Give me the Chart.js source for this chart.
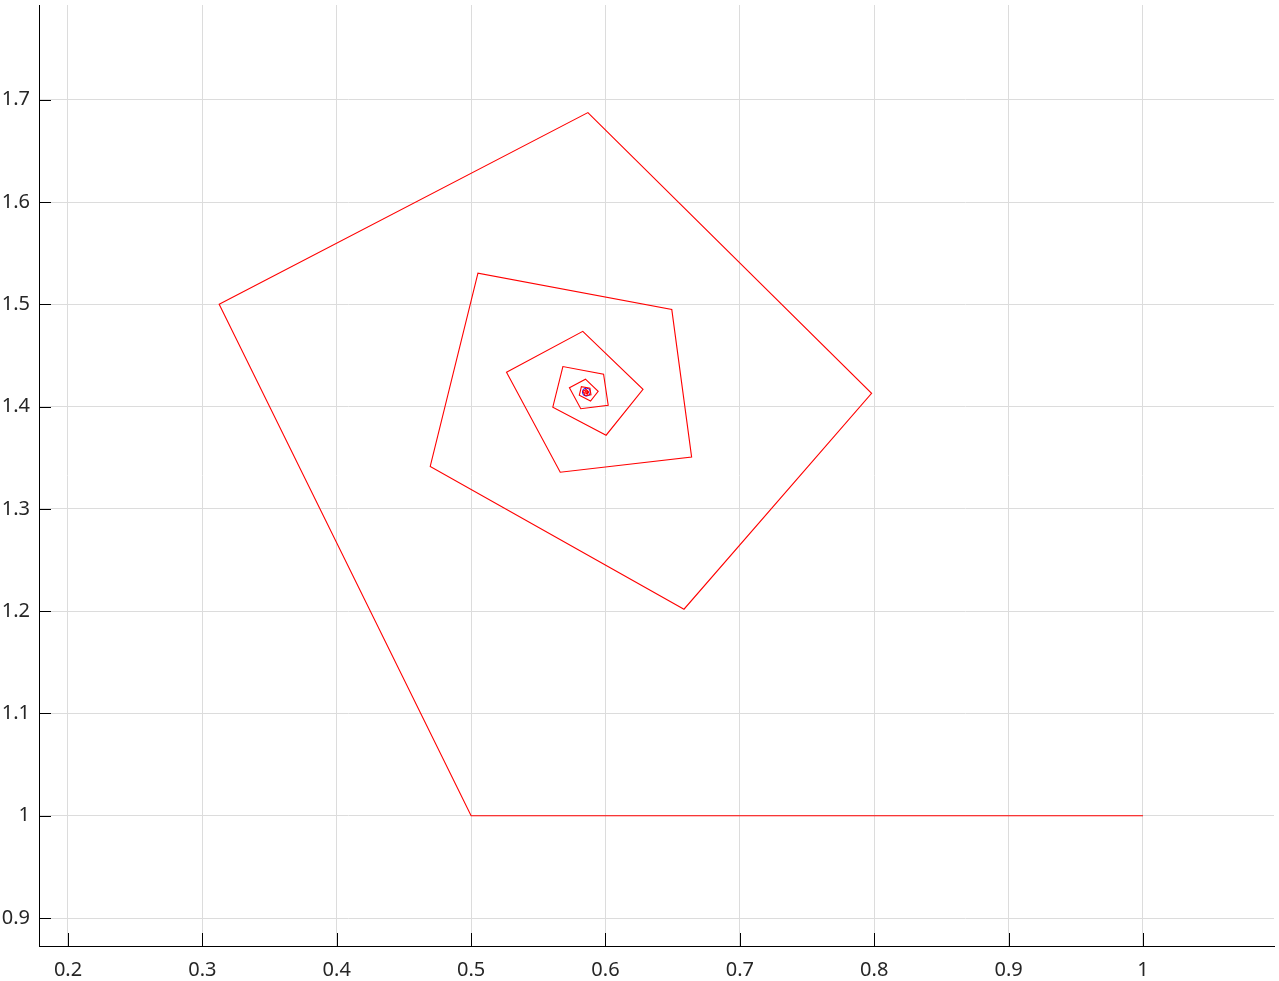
<!DOCTYPE html>
<html>
<head>
<meta charset="utf-8">
<script src="https://cdn.jsdelivr.net/npm/chart.js@4"></script>
<style>
html,body{margin:0;padding:0;background:#fff;}
canvas{display:block;}
</style>
</head>
<body>
<canvas id="c" width="1279" height="981"></canvas>
<script>
// Iteration path (x, y)
const xValues = [1, 0.5, 0.3125, 0.58691, 0.79803, 0.65842, 0.46956, 0.50508, 0.64934, 0.66410,
  0.56633, 0.52634, 0.58311, 0.62793, 0.60047, 0.56079, 0.56829, 0.59857, 0.60202, 0.58161,
  0.57316, 0.58509, 0.59455, 0.58887, 0.58051, 0.58207, 0.58844, 0.58920, 0.58491, 0.58312,
  0.58563, 0.58762, 0.58644, 0.58468, 0.58500, 0.58634, 0.58650, 0.58561];
const yValues = [1, 1, 1.5, 1.6875, 1.41309, 1.20197, 1.34158, 1.53044, 1.49492, 1.35066,
  1.33590, 1.43367, 1.47366, 1.41689, 1.37208, 1.39953, 1.43921, 1.43171, 1.40143, 1.39798,
  1.41839, 1.42685, 1.41491, 1.40545, 1.41113, 1.41949, 1.41793, 1.41156, 1.41081, 1.41509,
  1.41688, 1.41438, 1.41238, 1.41356, 1.41532, 1.41500, 1.41366, 1.41350];
// Limit point
const solX = [0.5858];
const solY = [1.4142];

// Axis ticks
const xTicks = [0.2, 0.3, 0.4, 0.5, 0.6, 0.7, 0.8, 0.9, 1.0];
const xLabels = ['0.2', '0.3', '0.4', '0.5', '0.6', '0.7', '0.8', '0.9', '1'];
const yTicks = [0.9, 1.0, 1.1, 1.2, 1.3, 1.4, 1.5, 1.6, 1.7];
const yLabels = ['0.9', '1', '1.1', '1.2', '1.3', '1.4', '1.5', '1.6', '1.7'];

const xRange = [0.17842, 1.0975];
const yRange = [0.87268, 1.79268];

const innerTicks = {
  id: 'innerTicks',
  afterDraw(chart) {
    const ctx = chart.ctx;
    const a = chart.chartArea;
    const xs = chart.scales.x, ys = chart.scales.y;
    ctx.save();
    ctx.strokeStyle = '#000';
    ctx.lineWidth = 1;
    ctx.beginPath();
    xTicks.forEach(v => {
      const px = Math.round(xs.getPixelForValue(v)) + 0.5;
      ctx.moveTo(px, a.bottom);
      ctx.lineTo(px, a.bottom - 13);
    });
    yTicks.forEach(v => {
      const py = Math.round(ys.getPixelForValue(v)) + 0.5;
      ctx.moveTo(a.left, py);
      ctx.lineTo(a.left + 12, py);
    });
    ctx.stroke();
    ctx.restore();
  }
};

const tickFont = { family: 'Noto Sans', size: 20 };

new Chart(document.getElementById('c').getContext('2d'), {
  type: 'scatter',
  data: {
    datasets: [
      {
        data: xValues.map((x, i) => ({ x: x, y: yValues[i] })),
        showLine: true,
        borderColor: '#ff0000',
        borderWidth: 1.1,
        pointRadius: 0,
        tension: 0,
        fill: false,
        order: 0
      },
      {
        data: solX.map((x, i) => ({ x: x, y: solY[i] })),
        showLine: false,
        pointRadius: 4,
        pointBorderColor: '#0000ff',
        pointBackgroundColor: 'rgba(0,0,0,0)',
        pointBorderWidth: 1,
        order: 1
      }
    ]
  },
  options: {
    responsive: false,
    animation: false,
    events: [],
    layout: { padding: { top: 3, right: 1, left: 0, bottom: 0 } },
    plugins: { legend: { display: false }, tooltip: { enabled: false } },
    scales: {
      x: {
        type: 'linear',
        min: xRange[0],
        max: xRange[1],
        afterBuildTicks: s => { s.ticks = xTicks.map(v => ({ value: v })); },
        afterFit: s => { s.height = 35; s.paddingLeft = 0; s.paddingRight = 0; },
        grid: { color: '#dcdcdc', lineWidth: 1, drawTicks: false },
        border: { display: true, color: '#000', width: 1 },
        ticks: {
          font: tickFont, color: '#262626', padding: 12, maxRotation: 0,
          callback: (v, i) => xLabels[i]
        }
      },
      y: {
        type: 'linear',
        min: yRange[0],
        max: yRange[1],
        afterBuildTicks: s => { s.ticks = yTicks.map(v => ({ value: v })); },
        afterFit: s => { s.width = 39; s.paddingTop = 0; s.paddingBottom = 0; },
        grid: { color: '#dcdcdc', lineWidth: 1, drawTicks: false },
        border: { display: true, color: '#000', width: 1 },
        ticks: {
          font: tickFont, color: '#262626', padding: 9,
          callback: (v, i) => yLabels[i]
        }
      }
    }
  },
  plugins: [innerTicks]
});
</script>
</body>
</html>
